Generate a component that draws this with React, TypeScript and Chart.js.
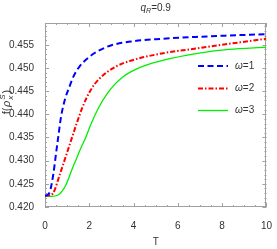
import React, { useEffect, useRef } from "react";
import { Chart, registerables } from "chart.js";

Chart.register(...registerables);

const T_W1 = [0, 0.1, 0.22, 0.37, 0.5, 0.6, 0.73, 0.9, 1.1, 1.3, 1.54, 2, 2.42, 3, 3.88, 5, 6.83, 8.3, 10];
const F_W1 = [0.4224, 0.4226, 0.4233, 0.4269, 0.4316, 0.4352, 0.4396, 0.4432, 0.4459, 0.4483, 0.4502, 0.4524, 0.4537, 0.4549, 0.4557, 0.4562, 0.4567, 0.457, 0.4573];

const T_W2 = [0, 0.2, 0.35, 0.44, 0.66, 0.96, 1.2, 1.4, 1.69, 2.06, 2.42, 3.16, 3.89, 5.36, 6.83, 8.3, 10];
const F_W2 = [0.4224, 0.4225, 0.4229, 0.4237, 0.4269, 0.4312, 0.4347, 0.4376, 0.4415, 0.4452, 0.4475, 0.4502, 0.4516, 0.4532, 0.4542, 0.4552, 0.4563];

const T_W3 = [0, 0.3, 0.59, 0.8, 0.96, 1.2, 1.4, 1.6, 1.84, 2.06, 2.42, 2.8, 3.16, 3.5, 3.89, 4.5, 5.36, 6.83, 8.3, 10];
const F_W3 = [0.4224, 0.4223, 0.4226, 0.4236, 0.4249, 0.4279, 0.4302, 0.4325, 0.435, 0.4377, 0.4414, 0.4444, 0.4465, 0.448, 0.4492, 0.4505, 0.4517, 0.4531, 0.454, 0.4545];

const LABELS = ["1", "2", "3"];
const X_TICKS = [0, 2, 4, 6, 8, 10];
const Y_TICKS = [0.42, 0.425, 0.43, 0.435, 0.44, 0.445, 0.45, 0.455];

const FONT = "'Liberation Sans', Arial, sans-serif";
const TEXT = "#333333";

const zip = (xs: number[], ys: number[]) => xs.map((x, i) => ({ x, y: ys[i] }));

const decorPlugin = {
  id: "decor",
  beforeDatasetsDraw(chart: any) {
    const { ctx, chartArea: a, scales } = chart;
    const xs = scales.x, ys = scales.y;
    ctx.save();
    ctx.strokeStyle = "#a0a0a0";
    ctx.lineWidth = 1;
    ctx.strokeRect(Math.round(a.left) + 0.5, Math.round(a.top) + 0.5, Math.round(a.right - a.left) - 1, Math.round(a.bottom - a.top) - 1);
    ctx.beginPath();
    for (let i = 0; i <= 20; i++) {
      const v = i * 0.5;
      const px = Math.round(xs.getPixelForValue(v)) + 0.5;
      const len = i % 4 === 0 ? 4 : 2;
      ctx.moveTo(px, a.bottom); ctx.lineTo(px, a.bottom - len);
      ctx.moveTo(px, a.top); ctx.lineTo(px, a.top + len);
    }
    for (let i = 0; i <= 39; i++) {
      const v = 0.42 + i * 0.001;
      const py = Math.round(ys.getPixelForValue(v)) + 0.5;
      if (py < a.top) continue;
      const len = i % 5 === 0 ? 4 : 2;
      ctx.moveTo(a.left, py); ctx.lineTo(a.left + len, py);
      ctx.moveTo(a.right, py); ctx.lineTo(a.right - len, py);
    }
    ctx.stroke();
    ctx.restore();
  },
  afterDraw(chart: any) {
    const { ctx, chartArea: a } = chart;
    ctx.save();
    ctx.fillStyle = TEXT;
    ctx.textBaseline = "alphabetic";
    const cx = (a.left + a.right) / 2;
    ctx.font = `italic 10px ${FONT}`;
    const wq = ctx.measureText("q").width;
    ctx.font = `italic 7px ${FONT}`;
    const wr = ctx.measureText("R").width;
    ctx.font = `10px ${FONT}`;
    const wv = ctx.measureText("=0.9").width;
    const x0 = cx - (wq + wr + wv) / 2;
    const by = 11;
    ctx.font = `italic 10px ${FONT}`;
    ctx.fillText("q", x0, by);
    ctx.font = `italic 7px ${FONT}`;
    ctx.fillText("R", x0 + wq, by + 2);
    ctx.font = `10px ${FONT}`;
    ctx.fillText("=0.9", x0 + wq + wr, by);
    ctx.textAlign = "center";
    ctx.fillText("T", cx, 245);
    ctx.textAlign = "left";
    ctx.translate(10, 102);
    ctx.rotate(-Math.PI / 2);
    const parts: [string, string][] = [
      ["f(", `11px ${FONT}`],
      ["ρ", `italic 11px ${FONT}`],
    ];
    let w = 0;
    parts.forEach(p => { ctx.font = p[1]; w += ctx.measureText(p[0]).width + 0.5; });
    ctx.font = `italic 8px ${FONT}`;
    const wsx = Math.max(ctx.measureText("x").width, ctx.measureText("S").width);
    ctx.font = `11px ${FONT}`;
    const wcl = ctx.measureText(")").width;
    const total = w + wsx + 1.5 + wcl;
    let px = -total / 2;
    parts.forEach(p => { ctx.font = p[1]; ctx.fillText(p[0], px, 0); px += ctx.measureText(p[0]).width + 0.5; });
    ctx.font = `italic 8px ${FONT}`;
    ctx.fillText("S", px + 0.5, -5.5);
    ctx.fillText("x", px + 0.5, 2.5);
    px += wsx + 1.5;
    ctx.font = `11px ${FONT}`;
    ctx.fillText(")", px, 0);
    ctx.restore();

    ctx.save();
    const rows = [65.5, 88, 110];
    chart.data.datasets.forEach((ds: any, i: number) => {
      const y = rows[i] + 0.5;
      ctx.strokeStyle = ds.borderColor;
      ctx.lineWidth = ds.borderWidth;
      ctx.setLineDash(ds.borderDash || []);
      ctx.beginPath();
      ctx.moveTo(198, y); ctx.lineTo(228, y);
      ctx.stroke();
      ctx.setLineDash([]);
      ctx.fillStyle = TEXT;
      ctx.textBaseline = "middle";
      ctx.font = `italic 10px ${FONT}`;
      ctx.fillText("ω", 235, y);
      const ww = ctx.measureText("ω").width;
      ctx.font = `10px ${FONT}`;
      ctx.fillText("=" + LABELS[i], 235 + ww, y);
    });
    ctx.restore();
  },
};

export default function App() {
  const ref = useRef<HTMLCanvasElement>(null);
  useEffect(() => {
    document.body.style.margin = "0";
    const chart = new Chart(ref.current as HTMLCanvasElement, {
      type: "line",
      data: {
        datasets: [
          { label: "ω=1", data: zip(T_W1, F_W1), borderColor: "#0000ff", borderWidth: 2, borderDash: [6, 3.5], pointRadius: 0, cubicInterpolationMode: "monotone", fill: false },
          { label: "ω=2", data: zip(T_W2, F_W2), borderColor: "#ff0000", borderWidth: 2, borderDash: [5, 2, 1.5, 2], pointRadius: 0, cubicInterpolationMode: "monotone", fill: false },
          { label: "ω=3", data: zip(T_W3, F_W3), borderColor: "#00ee00", borderWidth: 1.3, pointRadius: 0, cubicInterpolationMode: "monotone", fill: false },
        ] as any,
      },
      options: {
        animation: false,
        responsive: false,
        events: [],
        layout: { padding: { top: 23, right: 6, left: 0, bottom: 0 } },
        plugins: { legend: { display: false }, tooltip: { enabled: false }, title: { display: false } },
        scales: {
          x: {
            type: "linear", min: 0, max: 10,
            afterFit: (s: any) => { s.height = 42; },
            afterBuildTicks: (s: any) => { s.ticks = X_TICKS.map(v => ({ value: v })); },
            grid: { display: false }, border: { display: false },
            ticks: { font: { size: 10, family: FONT }, color: TEXT, padding: 5, maxRotation: 0, callback: (v: any) => String(v) },
          },
          y: {
            type: "linear", min: 0.42, max: 0.4597,
            afterFit: (s: any) => { s.width = 45; },
            afterBuildTicks: (s: any) => { s.ticks = Y_TICKS.map(v => ({ value: v })); },
            grid: { display: false }, border: { display: false },
            ticks: { font: { size: 10, family: FONT }, color: TEXT, padding: 3, callback: (v: any) => Number(v).toFixed(3) },
          },
        },
      } as any,
      plugins: [decorPlugin],
    });
    return () => chart.destroy();
  }, []);
  return (
    <div style={{ position: "fixed", left: 0, top: 0, width: 277, height: 249, background: "#fff" }}>
      <canvas ref={ref} width={277} height={249} />
    </div>
  );
}
